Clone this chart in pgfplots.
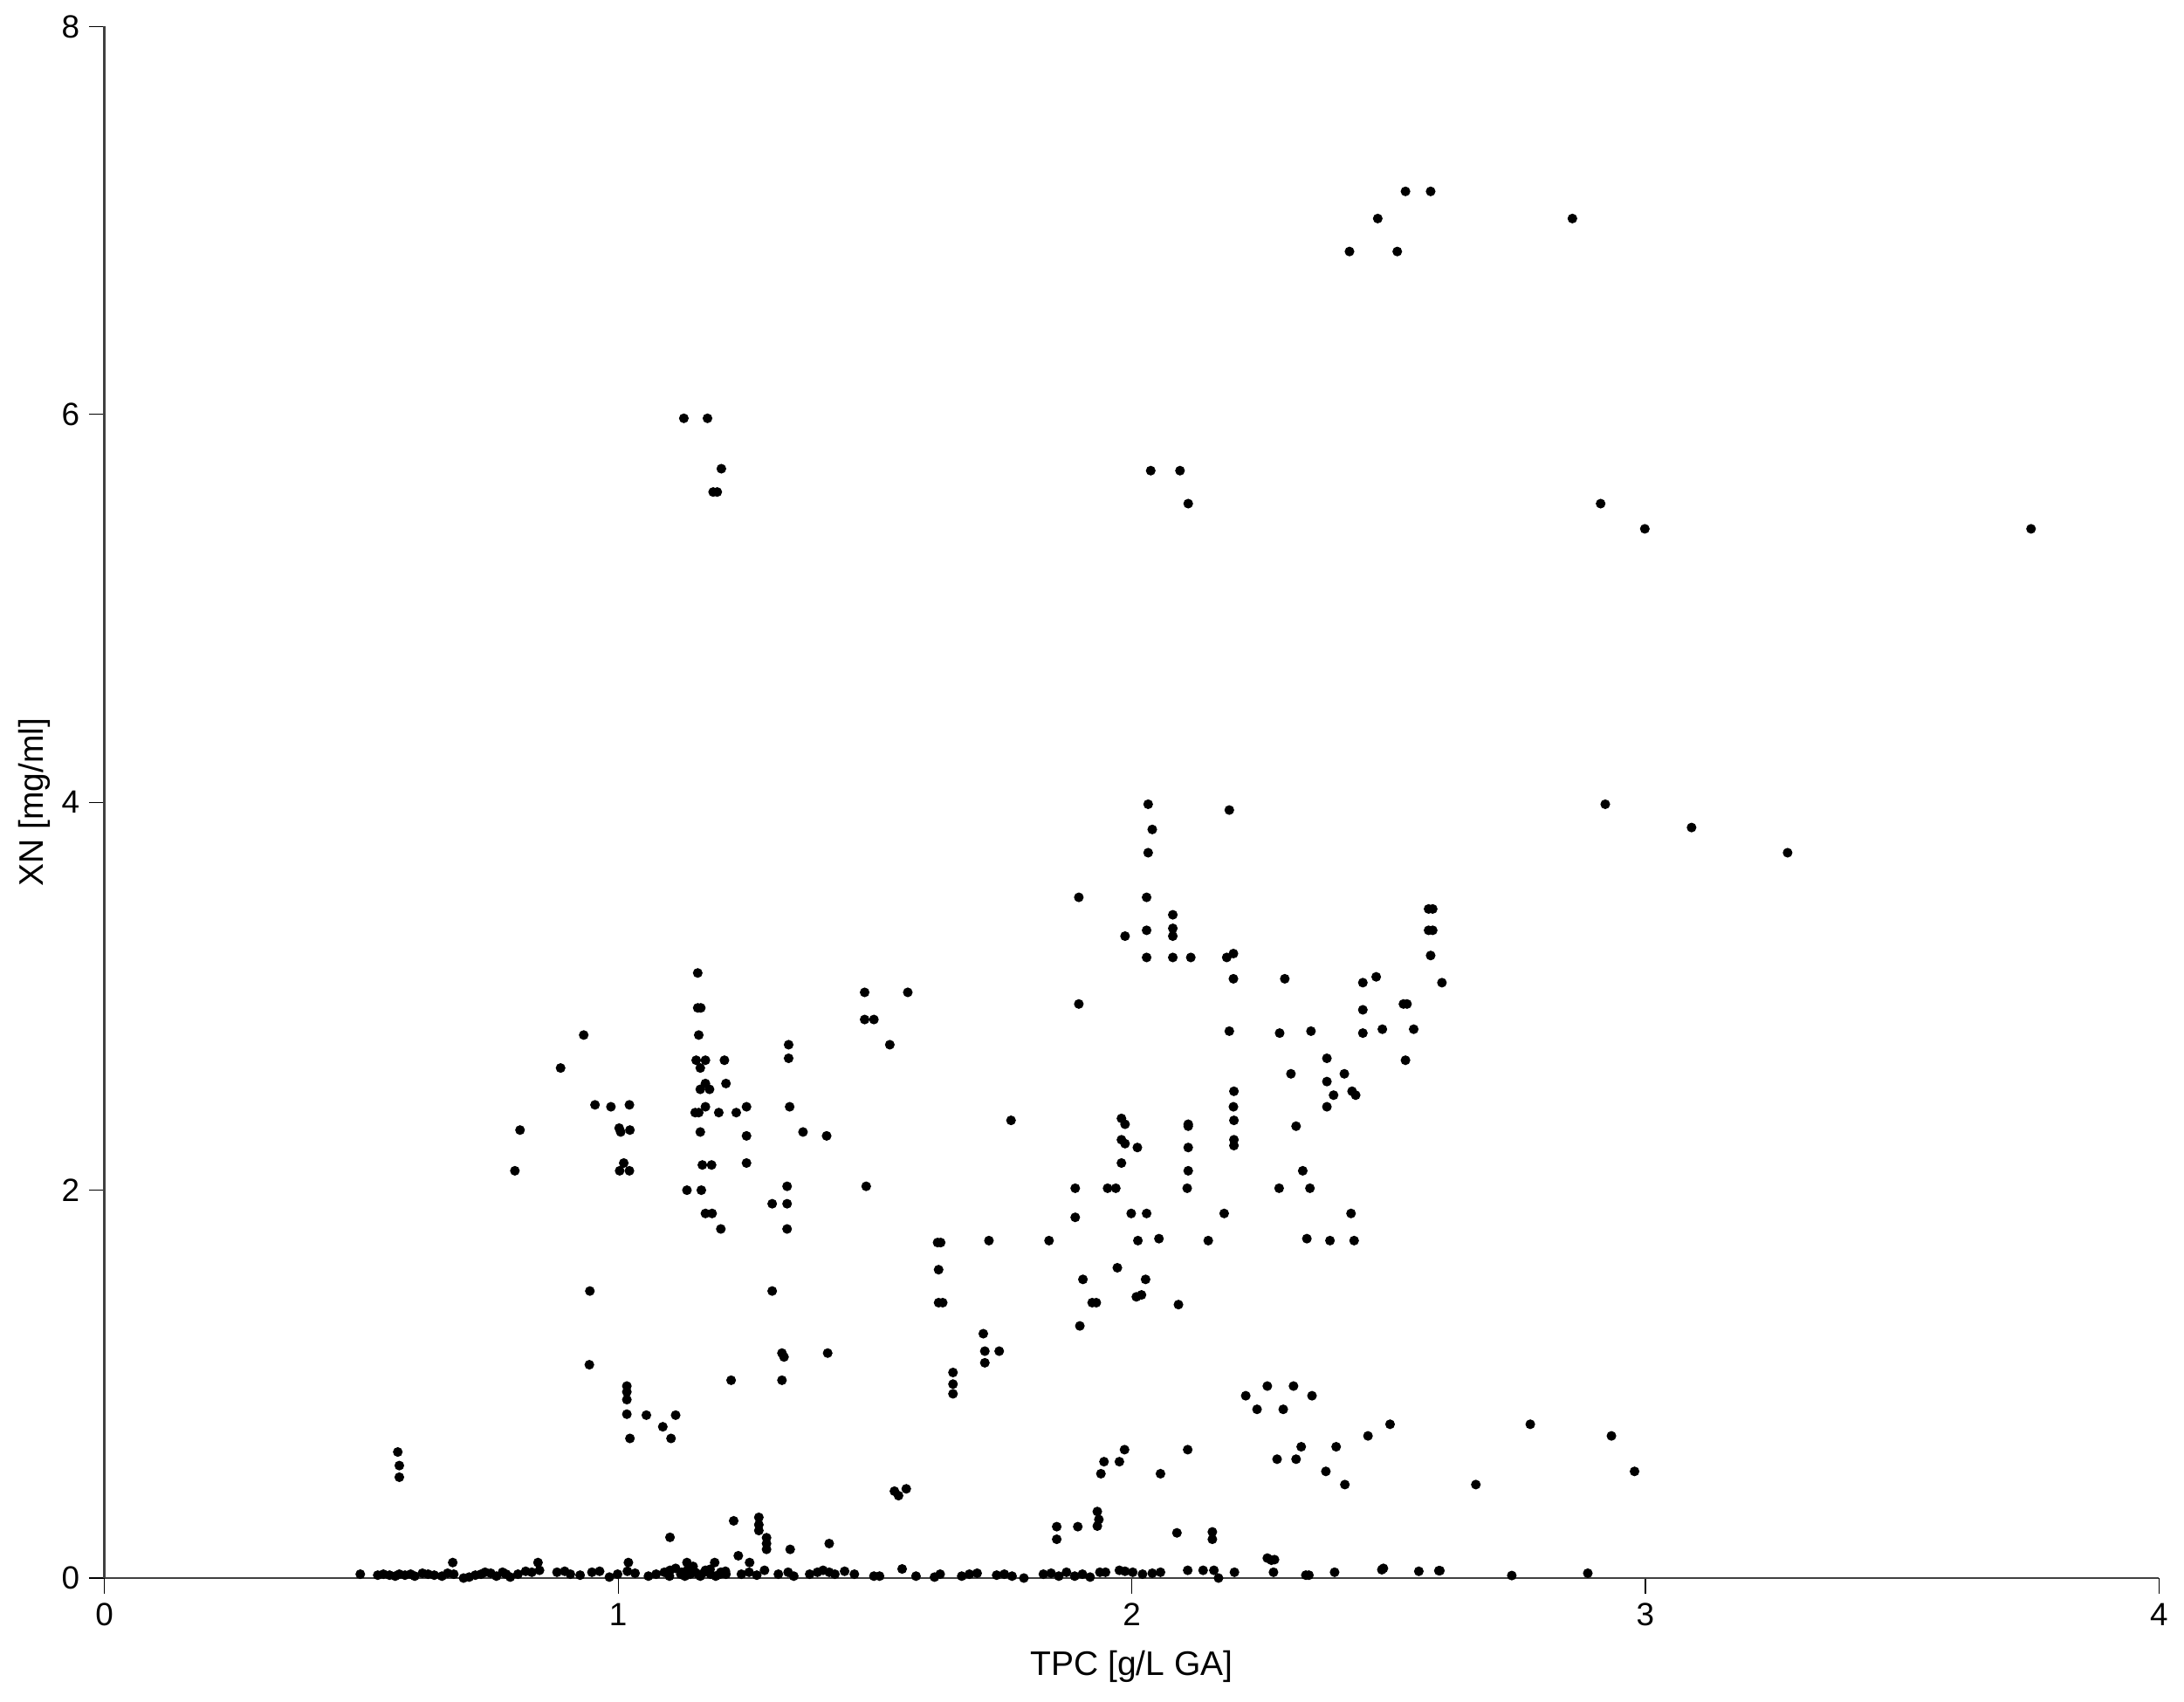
\documentclass[border=0pt]{standalone}
\usepackage{fontspec}
\setmainfont{Liberation Sans}
\usepackage{pgfplots}
\pgfplotsset{compat=1.18}

% TPC vs XN scatter
\pgfplotstableread{
x y
2.533 7.15
2.582 7.15
2.479 7.01
2.858 7.01
2.424 6.84
2.517 6.84
1.128 5.98
1.174 5.98
1.201 5.72
1.185 5.60
1.193 5.60
2.037 5.71
2.094 5.71
2.110 5.54
2.913 5.54
2.999 5.41
3.751 5.41
2.922 3.99
3.090 3.87
3.277 3.74
2.032 3.99
2.040 3.86
2.032 3.74
2.190 3.96
1.897 3.51
2.029 3.51
2.080 3.42
2.080 3.35
2.080 3.31
2.029 3.34
1.987 3.31
2.029 3.20
2.080 3.20
2.115 3.20
2.185 3.20
2.198 3.22
2.198 3.09
2.298 3.09
2.450 3.07
2.476 3.10
2.604 3.07
2.578 3.45
2.586 3.45
2.578 3.34
2.586 3.34
2.582 3.21
1.897 2.96
2.450 2.93
2.529 2.96
2.536 2.96
2.190 2.82
2.288 2.81
2.349 2.82
2.450 2.81
2.488 2.83
2.549 2.83
1.155 3.12
1.155 2.94
1.161 2.94
1.157 2.80
0.933 2.80
1.480 3.02
1.564 3.02
1.480 2.88
1.498 2.88
1.332 2.75
1.529 2.75
1.332 2.68
0.888 2.63
1.152 2.67
1.170 2.67
1.207 2.67
1.160 2.63
1.170 2.55
1.160 2.52
1.178 2.52
1.210 2.55
0.955 2.44
0.986 2.43
1.022 2.44
1.157 2.40
1.150 2.40
1.170 2.43
1.196 2.40
1.230 2.40
1.250 2.43
1.334 2.43
0.809 2.31
1.002 2.32
1.005 2.30
1.023 2.31
1.160 2.30
1.250 2.28
1.360 2.30
1.406 2.28
0.799 2.10
1.011 2.14
1.003 2.10
1.022 2.10
1.164 2.13
1.182 2.13
1.250 2.14
1.134 2.00
1.162 2.00
1.329 2.02
1.483 2.02
1.300 1.93
1.329 1.93
1.170 1.88
1.183 1.88
1.200 1.80
1.329 1.80
1.622 1.73
1.628 1.73
1.624 1.59
1.624 1.42
1.632 1.42
0.945 1.48
1.300 1.48
1.319 1.16
1.323 1.14
1.408 1.16
0.944 1.10
1.220 1.02
1.319 1.02
1.652 1.06
1.652 1.00
1.652 0.95
2.533 2.67
2.380 2.68
2.310 2.60
2.414 2.60
2.380 2.56
2.393 2.49
2.429 2.51
2.436 2.49
2.380 2.43
2.199 2.51
2.198 2.43
2.199 2.36
2.199 2.26
2.199 2.23
2.320 2.33
1.980 2.37
1.987 2.34
2.110 2.34
2.110 2.33
1.980 2.26
1.987 2.24
2.011 2.22
2.110 2.22
1.980 2.14
2.110 2.10
2.108 2.01
2.333 2.10
2.287 2.01
2.347 2.01
1.765 2.36
1.890 2.01
1.953 2.01
1.969 2.01
1.890 1.86
1.999 1.88
2.029 1.88
2.180 1.88
2.427 1.88
1.722 1.74
1.839 1.74
2.012 1.74
2.053 1.75
2.149 1.74
2.341 1.75
2.386 1.74
2.433 1.74
1.972 1.60
1.905 1.54
2.027 1.54
1.923 1.42
1.931 1.42
2.009 1.45
2.019 1.46
2.091 1.41
1.899 1.30
1.711 1.26
1.714 1.17
1.742 1.17
1.714 1.11
2.264 0.99
2.315 0.99
2.222 0.94
2.351 0.94
0.571 0.65
0.574 0.58
0.574 0.52
1.017 0.99
1.017 0.96
1.017 0.92
1.017 0.845
1.055 0.84
1.112 0.84
1.087 0.78
1.023 0.72
1.103 0.72
1.101 0.21
0.678 0.08
0.844 0.08
1.020 0.08
1.538 0.448
1.546 0.425
1.561 0.460
1.225 0.295
1.274 0.313
1.274 0.275
1.274 0.245
1.289 0.208
1.289 0.178
1.289 0.148
1.234 0.115
1.256 0.08
1.335 0.148
1.411 0.178
1.134 0.08
1.188 0.08
1.553 0.047
1.854 0.265
1.854 0.20
1.895 0.265
1.933 0.343
1.936 0.302
1.933 0.268
1.940 0.538
1.946 0.60
1.976 0.60
1.986 0.662
2.056 0.538
2.109 0.662
2.088 0.233
2.157 0.238
2.157 0.20
2.264 0.103
2.272 0.092
2.244 0.87
2.295 0.87
2.283 0.613
2.503 0.793
2.460 0.733
2.330 0.677
2.398 0.677
2.320 0.613
2.378 0.55
2.415 0.482
2.670 0.482
2.776 0.793
2.934 0.733
2.979 0.55
0.498 0.02
0.532 0.015
0.543 0.02
0.555 0.015
0.566 0.01
0.574 0.02
0.585 0.015
0.596 0.02
0.604 0.01
0.619 0.025
0.630 0.02
0.642 0.015
0.657 0.01
0.668 0.025
0.680 0.02
0.699 0.0
0.710 0.005
0.722 0.015
0.733 0.02
0.741 0.03
0.752 0.025
0.763 0.01
0.775 0.03
0.782 0.02
0.790 0.005
0.805 0.02
0.820 0.035
0.832 0.03
0.847 0.04
0.881 0.03
0.896 0.035
0.907 0.02
0.926 0.015
0.949 0.03
0.964 0.035
0.983 0.005
0.999 0.02
1.018 0.035
1.033 0.025
1.059 0.01
1.074 0.02
1.090 0.03
1.101 0.04
1.112 0.05
1.124 0.03
1.135 0.04
1.146 0.06
1.100 0.01
1.130 0.01
1.140 0.02
1.150 0.03
1.160 0.01
1.170 0.04
1.180 0.02
1.190 0.01
1.200 0.03
1.210 0.02
1.122 0.02
1.145 0.035
1.156 0.02
1.168 0.03
1.179 0.045
1.198 0.02
1.209 0.035
1.240 0.02
1.255 0.03
1.270 0.015
1.285 0.04
1.312 0.02
1.331 0.03
1.342 0.01
1.373 0.02
1.388 0.03
1.399 0.04
1.411 0.03
1.422 0.02
1.441 0.035
1.460 0.02
1.498 0.01
1.509 0.01
1.580 0.01
1.616 0.005
1.627 0.02
1.669 0.01
1.684 0.02
1.699 0.025
1.737 0.015
1.752 0.02
1.767 0.01
1.790 0.0
1.828 0.02
1.843 0.025
1.858 0.01
1.873 0.03
1.889 0.01
1.904 0.02
1.919 0.005
1.938 0.03
1.949 0.03
1.976 0.04
1.987 0.035
2.002 0.03
2.021 0.02
2.040 0.025
2.056 0.03
2.109 0.04
2.139 0.04
2.160 0.04
2.169 0.0
2.200 0.03
2.276 0.03
2.278 0.095
2.339 0.015
2.345 0.015
2.395 0.03
2.487 0.043
2.490 0.05
2.559 0.035
2.598 0.038
2.600 0.038
2.740 0.013
2.888 0.025
}\pts

\begin{document}
\begin{tikzpicture}
\useasboundingbox (-39.0pt,-46.25pt) rectangle (775.95pt,588.9pt);
\begin{axis}[
  scale only axis,
  width=766.6pt,height=579pt,
  xmin=0,xmax=4,ymin=0,ymax=8,
  axis x line=bottom,axis y line=left,
  axis line style={-,black!75,line width=0.9pt},
  xtick={0,1,2,3,4},ytick={0,2,4,6,8},
  tick align=outside,
  major tick length=5.8pt,
  tick style={black,line width=0.4pt},
  font=\fontsize{12}{14}\selectfont,
  /pgf/number format/assume math mode=true,
  xlabel={TPC [g/L GA]},
  ylabel={XN [mg/ml]},
  label style={font=\fontsize{12.7}{15}\selectfont},
  xlabel style={at={([yshift=-27pt]axis description cs:0.5,0)},anchor=north,inner sep=0pt},
  ylabel style={at={([xshift=-26pt]axis description cs:0,0.5)},anchor=center,inner sep=0pt},
  clip=false
]
\addplot[only marks,mark=*,mark size=1.6pt,black] table {\pts};
\end{axis}
\end{tikzpicture}
\end{document}
